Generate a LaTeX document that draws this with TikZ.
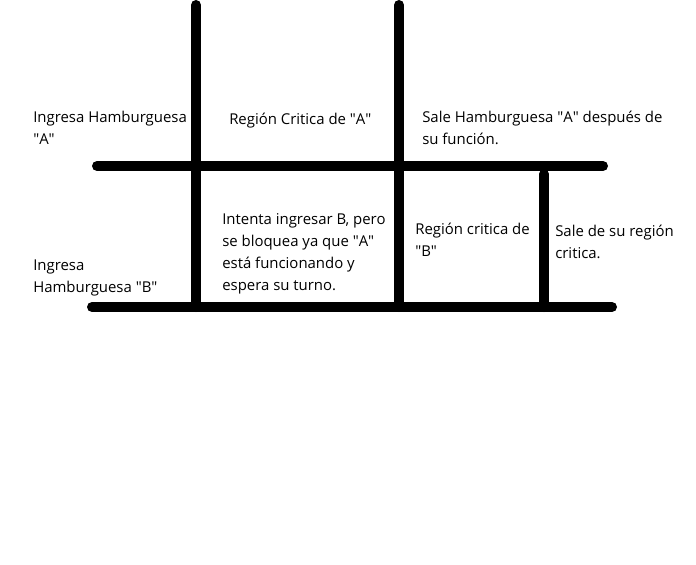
\documentclass[tikz,border=0pt]{standalone}
\usepackage{fontspec}
\setmainfont{Open Sans}
\newcommand{\qt}{\textquotedbl}
\begin{document}
\begin{tikzpicture}[x=0.75pt,y=-0.75pt,
  bar/.style={line width=7.5pt,line cap=round,black},
  lbl/.style={anchor=west,align=left,inner sep=0pt,font=\fontsize{11.2pt}{16.5pt}\selectfont}]
\useasboundingbox[fill=white] (0,0) rectangle (696,564);
% horizontal bars
\draw[bar] (97,166) -- (603,166);
\draw[bar] (92,307) -- (612,307);
% vertical bars
\draw[bar] (196,5) -- (196,307);
\draw[bar] (399,5) -- (399,307);
\draw[bar] (544,174) -- (544,307);
% labels
\node[lbl] (ia) at (33,128) {Ingresa Hamburguesa\\\qt A\qt};
\node[lbl] (ra) at (229,121) {Región Critica de \qt A\qt};
\node[lbl] (sa) at (422,128) {Sale Hamburguesa \qt A\qt{} después de\\su función.};
\node[lbl] (ib) at (33,278) {Ingresa\\Hamburguesa \qt B\qt};
\node[lbl] (it) at (222,254) {Intenta ingresar B, pero\\se bloquea ya que \qt A\qt\\está funcionando y\\espera su turno.};
\node[lbl] (rb) at (415,240) {Región critica de\\\qt B\qt};
\node[lbl] (sb) at (555,242) {Sale de su región\\critica.};
\end{tikzpicture}
\end{document}
